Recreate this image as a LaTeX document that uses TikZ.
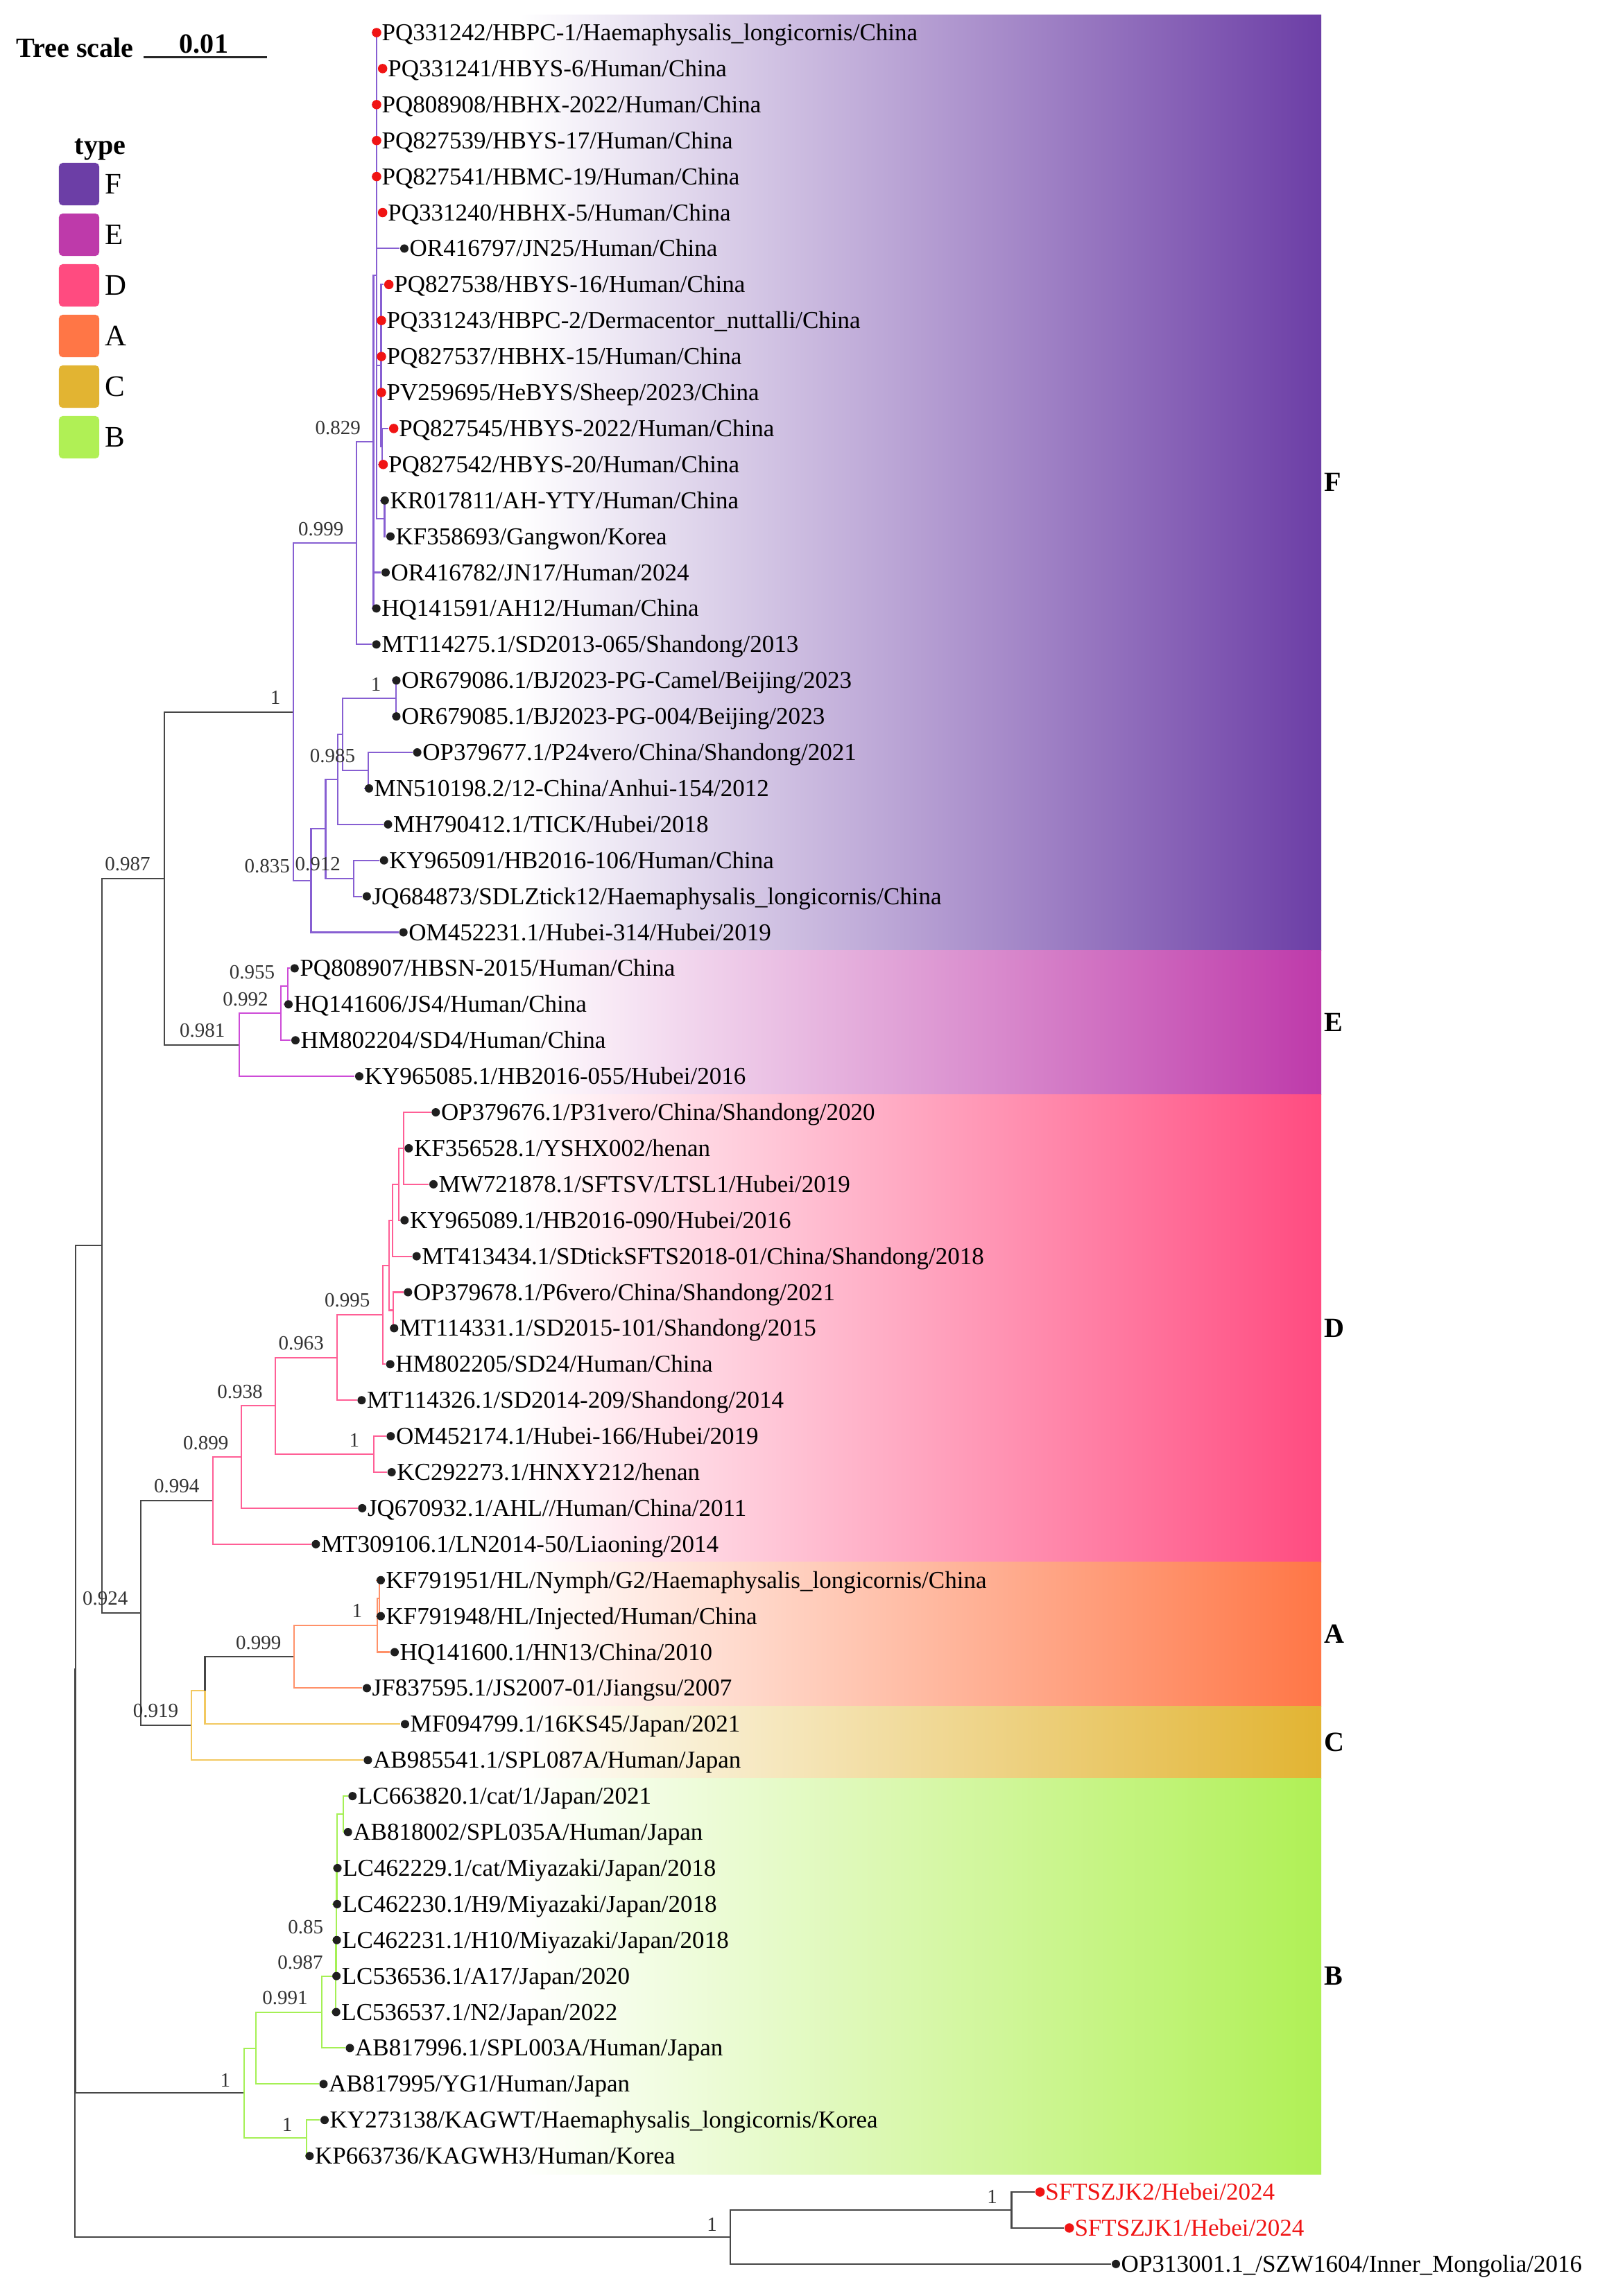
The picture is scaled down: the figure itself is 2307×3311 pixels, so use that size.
\documentclass[tikz,border=0pt]{standalone}
\usepackage{fontspec}
\setmainfont{Liberation Serif}
\usetikzlibrary{calc,backgrounds}
\definecolor{typeF}{RGB}{108,62,166}
\definecolor{typeE}{RGB}{190,58,170}
\definecolor{typeD}{RGB}{255,75,128}
\definecolor{typeA}{RGB}{255,118,70}
\definecolor{typeC}{RGB}{226,180,50}
\definecolor{typeB}{RGB}{176,240,85}
\definecolor{branchF}{RGB}{135,95,210}
\definecolor{branchE}{RGB}{205,75,215}
\definecolor{branchD}{RGB}{255,95,150}
\definecolor{branchA}{RGB}{255,145,105}
\definecolor{branchC}{RGB}{242,200,95}
\definecolor{branchB}{RGB}{165,240,85}
\definecolor{branchK}{RGB}{70,70,70}
\definecolor{tipred}{RGB}{240,20,20}
\pgfdeclarelayer{strips}
\pgfsetlayers{strips,background,main}

% leaf = dot + label
\newcommand{\leaf}[5]{%
  \node[#4] (#1) at (#2,#3) {};
  \node[leaflab] (#1t) at ($(#1)+(7,11.5)$) {#5};}

\begin{document}
\begin{tikzpicture}[
    x=0.01cm, y=-0.01cm,
    dotk/.style={circle,fill=black!88,inner sep=0pt,minimum size=0.12cm},
    dotr/.style={circle,fill=tipred,inner sep=0pt,minimum size=0.135cm},
    leaflab/.style={anchor=base west,inner sep=0pt,font=\fontsize{9.96pt}{12pt}\selectfont},
    supval/.style={anchor=base east,inner sep=0pt,text=black!80,font=\fontsize{8.25pt}{10pt}\selectfont},
    headlab/.style={inner sep=0pt,font=\bfseries\fontsize{11.4pt}{13pt}\selectfont},
    legbox/.style={rounded corners=1.5pt,minimum width=0.58cm,minimum height=0.61cm,inner sep=0pt},
    leglab/.style={anchor=west,inner sep=0pt,font=\fontsize{12.2pt}{14pt}\selectfont},
    cladelab/.style={anchor=west,inner sep=0pt,font=\bfseries\fontsize{11.4pt}{13pt}\selectfont},
    br/.style={line width=0.6pt},
    brK/.style={br,color=branchK},
    brF/.style={br,color=branchF},
    brE/.style={br,color=branchE},
    brD/.style={br,color=branchD},
    brA/.style={br,color=branchA},
    brC/.style={br,color=branchC},
    brB/.style={br,color=branchB}
]
    \useasboundingbox (0,0) rectangle (2307,3311);

    % type strips, white to colour
    \begin{pgfonlayer}{strips}
        \fill[white] (0,0) rectangle (2307,3311);
        \shade[left color=white,right color=typeF] (750,21.05) rectangle (1905,1370.45);
        \shade[left color=white,right color=typeE] (750,1370.45) rectangle (1905,1578.05);
        \shade[left color=white,right color=typeD] (750,1578.05) rectangle (1905,2252.75);
        \shade[left color=white,right color=typeA] (750,2252.75) rectangle (1905,2460.35);
        \shade[left color=white,right color=typeC] (750,2460.35) rectangle (1905,2564.15);
        \shade[left color=white,right color=typeB] (750,2564.15) rectangle (1905,3135.05);
    \end{pgfonlayer}

    % scale and legend
    \node[headlab,anchor=base west] (treescale) at (23,82.6) {Tree scale};
    \coordinate (barL) at (207,82.6);
    \coordinate (barR) at (385,82.6);
    \draw[line width=0.75pt,black!85] (barL) -- (barR);
    \node[headlab,anchor=base] (scaleval) at (294,76) {0.01};
    \node[headlab,anchor=base west] (typehead) at (107,222) {type};
    \node[legbox,fill=typeF] (legF) at (114,265.5) {};
    \node[legbox,fill=typeE] (legE) at (114,338.5) {};
    \node[legbox,fill=typeD] (legD) at (114,411.5) {};
    \node[legbox,fill=typeA] (legA) at (114,484.5) {};
    \node[legbox,fill=typeC] (legC) at (114,557.5) {};
    \node[legbox,fill=typeB] (legB) at (114,630.5) {};
    \node[leglab] (legFt) at (151,265.5) {F};
    \node[leglab] (legEt) at (151,338.5) {E};
    \node[leglab] (legDt) at (151,411.5) {D};
    \node[leglab] (legAt) at (151,484.5) {A};
    \node[leglab] (legCt) at (151,557.5) {C};
    \node[leglab] (legBt) at (151,630.5) {B};

    % clade letters
    \node[cladelab] (cladeF) at (1909,695.75) {F};
    \node[cladelab] (cladeE) at (1909,1474.25) {E};
    \node[cladelab] (cladeD) at (1909,1915.4) {D};
    \node[cladelab] (cladeA) at (1909,2356.55) {A};
    \node[cladelab] (cladeC) at (1909,2512.25) {C};
    \node[cladelab] (cladeB) at (1909,2849.6) {B};

    % leaves
    \leaf{pq331242}{543.0}{47.0}{dotr}{PQ331242/HBPC-1/Haemaphysalis\_longicornis/China}
    \leaf{pq331241}{551.7}{98.9}{dotr}{PQ331241/HBYS-6/Human/China}
    \leaf{pq808908}{543.0}{150.8}{dotr}{PQ808908/HBHX-2022/Human/China}
    \leaf{pq827539}{543.0}{202.7}{dotr}{PQ827539/HBYS-17/Human/China}
    \leaf{pq827541}{543.0}{254.6}{dotr}{PQ827541/HBMC-19/Human/China}
    \leaf{pq331240}{551.7}{306.5}{dotr}{PQ331240/HBHX-5/Human/China}
    \leaf{or416797}{583.0}{358.4}{dotk}{OR416797/JN25/Human/China}
    \leaf{pq827538}{560.7}{410.3}{dotr}{PQ827538/HBYS-16/Human/China}
    \leaf{pq331243}{550.0}{462.2}{dotr}{PQ331243/HBPC-2/Dermacentor\_nuttalli/China}
    \leaf{pq827537}{550.0}{514.1}{dotr}{PQ827537/HBHX-15/Human/China}
    \leaf{pv259695}{550.0}{566.0}{dotr}{PV259695/HeBYS/Sheep/2023/China}
    \leaf{pq827545}{567.7}{617.9}{dotr}{PQ827545/HBYS-2022/Human/China}
    \leaf{pq827542}{552.5}{669.8}{dotr}{PQ827542/HBYS-20/Human/China}
    \leaf{kr017811}{554.8}{721.7}{dotk}{KR017811/AH-YTY/Human/China}
    \leaf{kf358693}{563.0}{773.6}{dotk}{KF358693/Gangwon/Korea}
    \leaf{or416782}{556.0}{825.5}{dotk}{OR416782/JN17/Human/2024}
    \leaf{hq141591}{542.7}{877.4}{dotk}{HQ141591/AH12/Human/China}
    \leaf{mt114275}{542.7}{929.3}{dotk}{MT114275.1/SD2013-065/Shandong/2013}
    \leaf{or679086}{571.5}{981.2}{dotk}{OR679086.1/BJ2023-PG-Camel/Beijing/2023}
    \leaf{or679085}{571.5}{1033.1}{dotk}{OR679085.1/BJ2023-PG-004/Beijing/2023}
    \leaf{op379677}{601.6}{1085.0}{dotk}{OP379677.1/P24vero/China/Shandong/2021}
    \leaf{mn510198}{532.0}{1136.9}{dotk}{MN510198.2/12-China/Anhui-154/2012}
    \leaf{mh790412}{559.5}{1188.8}{dotk}{MH790412.1/TICK/Hubei/2018}
    \leaf{ky965091}{553.7}{1240.7}{dotk}{KY965091/HB2016-106/Human/China}
    \leaf{jq684873}{528.9}{1292.6}{dotk}{JQ684873/SDLZtick12/Haemaphysalis\_longicornis/China}
    \leaf{om452231}{581.7}{1344.5}{dotk}{OM452231.1/Hubei-314/Hubei/2019}
    \leaf{pq808907}{424.8}{1396.4}{dotk}{PQ808907/HBSN-2015/Human/China}
    \leaf{hq141606}{416.0}{1448.3}{dotk}{HQ141606/JS4/Human/China}
    \leaf{hm802204}{426.0}{1500.2}{dotk}{HM802204/SD4/Human/China}
    \leaf{ky965085}{518.0}{1552.1}{dotk}{KY965085.1/HB2016-055/Hubei/2016}
    \leaf{op379676}{628.3}{1604.0}{dotk}{OP379676.1/P31vero/China/Shandong/2020}
    \leaf{kf356528}{589.3}{1655.9}{dotk}{KF356528.1/YSHX002/henan}
    \leaf{mw721878}{625.0}{1707.8}{dotk}{MW721878.1/SFTSV/LTSL1/Hubei/2019}
    \leaf{ky965089}{583.3}{1759.7}{dotk}{KY965089.1/HB2016-090/Hubei/2016}
    \leaf{mt413434}{600.7}{1811.6}{dotk}{MT413434.1/SDtickSFTS2018-01/China/Shandong/2018}
    \leaf{op379678}{588.3}{1863.5}{dotk}{OP379678.1/P6vero/China/Shandong/2021}
    \leaf{mt114331}{568.3}{1915.4}{dotk}{MT114331.1/SD2015-101/Shandong/2015}
    \leaf{hm802205}{562.7}{1967.3}{dotk}{HM802205/SD24/Human/China}
    \leaf{mt114326}{521.4}{2019.2}{dotk}{MT114326.1/SD2014-209/Shandong/2014}
    \leaf{om452174}{563.4}{2071.1}{dotk}{OM452174.1/Hubei-166/Hubei/2019}
    \leaf{kc292273}{564.7}{2123.0}{dotk}{KC292273.1/HNXY212/henan}
    \leaf{jq670932}{522.3}{2174.9}{dotk}{JQ670932.1/AHL//Human/China/2011}
    \leaf{mt309106}{455.4}{2226.8}{dotk}{MT309106.1/LN2014-50/Liaoning/2014}
    \leaf{kf791951}{549.0}{2278.7}{dotk}{KF791951/HL/Nymph/G2/Haemaphysalis\_longicornis/China}
    \leaf{kf791948}{549.0}{2330.6}{dotk}{KF791948/HL/Injected/Human/China}
    \leaf{hq141600}{569.0}{2382.5}{dotk}{HQ141600.1/HN13/China/2010}
    \leaf{jf837595}{529.0}{2434.4}{dotk}{JF837595.1/JS2007-01/Jiangsu/2007}
    \leaf{mf094799}{584.0}{2486.3}{dotk}{MF094799.1/16KS45/Japan/2021}
    \leaf{ab985541}{530.4}{2538.2}{dotk}{AB985541.1/SPL087A/Human/Japan}
    \leaf{lc663820}{508.3}{2590.1}{dotk}{LC663820.1/cat/1/Japan/2021}
    \leaf{ab818002}{501.7}{2642.0}{dotk}{AB818002/SPL035A/Human/Japan}
    \leaf{lc462229}{486.6}{2693.9}{dotk}{LC462229.1/cat/Miyazaki/Japan/2018}
    \leaf{lc462230}{486.1}{2745.8}{dotk}{LC462230.1/H9/Miyazaki/Japan/2018}
    \leaf{lc462231}{485.6}{2797.7}{dotk}{LC462231.1/H10/Miyazaki/Japan/2018}
    \leaf{lc536536}{485.1}{2849.6}{dotk}{LC536536.1/A17/Japan/2020}
    \leaf{lc536537}{484.7}{2901.5}{dotk}{LC536537.1/N2/Japan/2022}
    \leaf{ab817996}{504.5}{2953.4}{dotk}{AB817996.1/SPL003A/Human/Japan}
    \leaf{ab817995}{466.5}{3005.3}{dotk}{AB817995/YG1/Human/Japan}
    \leaf{ky273138}{468.0}{3057.2}{dotk}{KY273138/KAGWT/Haemaphysalis\_longicornis/Korea}
    \leaf{kp663736}{446.4}{3109.1}{dotk}{KP663736/KAGWH3/Human/Korea}
    \leaf{zjk2}{1499.6}{3161.0}{dotr}{\color{tipred}SFTSZJK2/Hebei/2024}
    \leaf{zjk1}{1541.8}{3212.9}{dotr}{\color{tipred}SFTSZJK1/Hebei/2024}
    \leaf{op313001}{1609.0}{3264.8}{dotk}{OP313001.1\_/SZW1604/Inner\_Mongolia/2016}

    % inner nodes of F
    \coordinate (fTop) at (542.7,397.3);
    \coordinate (fMid) at (549.5,527.1);
    \coordinate (fMidB) at (551.0,643.85);
    \coordinate (fKK) at (554.5,747.65);
    \coordinate (f829) at (538.5,637.35);
    \coordinate (f999) at (514.0,783.3);
    \coordinate (fOR) at (571.0,1007.15);
    \coordinate (fOP) at (530.8,1110.95);
    \coordinate (f494) at (494.4,1059.05);
    \coordinate (f487) at (486.8,1123.9);
    \coordinate (f912) at (509.7,1266.65);
    \coordinate (f470) at (469.5,1195.3);
    \coordinate (f835) at (448.5,1269.9);
    \coordinate (fRoot) at (423.0,1026.6);
    % E
    \coordinate (e955) at (414.8,1422.35);
    \coordinate (e992) at (405.3,1461.3);
    \coordinate (e981) at (345.0,1506.7);
    \coordinate (fe987) at (237.3,1266.65);
    % D
    \coordinate (dT4) at (581.7,1655.9);
    \coordinate (dT3) at (575.0,1707.8);
    \coordinate (dT2) at (566.0,1759.7);
    \coordinate (dPair) at (566.7,1889.45);
    \coordinate (dT1) at (561.0,1824.6);
    \coordinate (d995) at (552.2,1895.95);
    \coordinate (d963) at (485.7,1957.6);
    \coordinate (dOM) at (538.8,2097.05);
    \coordinate (d938) at (397.3,2027.3);
    \coordinate (d899) at (348.2,2101.1);
    \coordinate (d994) at (307.1,2163.95);
    % A and C
    \coordinate (aPair) at (547.0,2304.65);
    \coordinate (a1) at (543.8,2343.6);
    \coordinate (a999) at (424.1,2389.0);
    \coordinate (cIn) at (295.5,2437.65);
    \coordinate (c919) at (275.9,2487.9);
    \coordinate (n924) at (203.1,2325.9);
    \coordinate (core) at (147.3,1796.3);
    % B
    \coordinate (bAB) at (495.0,2616.05);
    \coordinate (bL1) at (486.3,2654.98);
    \coordinate (bL2) at (485.8,2700.39);
    \coordinate (bL3) at (485.3,2749.05);
    \coordinate (b85) at (484.8,2799.3);
    \coordinate (b987) at (484.4,2850.4);
    \coordinate (b991) at (464.3,2901.9);
    \coordinate (bIn) at (368.8,2953.6);
    \coordinate (bK) at (442.0,3083.15);
    \coordinate (bRoot) at (351.8,3018.38);
    % outgroup and root
    \coordinate (oZJK) at (1458.5,3186.95);
    \coordinate (oOut) at (1052.6,3225.88);
    \coordinate (rootIn) at (109.4,2407.34);
    \coordinate (root) at (108.0,2816.6);

    % branches
    \begin{scope}[on background layer]
        \draw[brK] (root) |- (rootIn) (root) |- (oOut);
        \draw[brK] (rootIn) |- (core) (rootIn) |- (bRoot);
        \draw[brK] (core) |- (fe987) (core) |- (n924);
        \draw[brK] (fe987) |- (fRoot) (fe987) |- (e981);
        \draw[brK] (n924) |- (d994) (n924) |- (c919);
        \draw[brK] (oOut) |- (oZJK) (oOut) |- (op313001);
        \draw[brK] (oZJK) |- (zjk2) (oZJK) |- (zjk1);
        % F
        \draw[brF] (fRoot) |- (f999) (fRoot) |- (f835);
        \draw[brF] (f999) |- (f829) (f999) |- (mt114275);
        \draw[brF] (f829) |- (fTop) (f829) |- (or416782) (f829) |- (hq141591);
        \draw[brF] (fTop) |- (pq331242) (fTop) |- (pq331241) (fTop) |- (pq808908)
            (fTop) |- (pq827539) (fTop) |- (pq827541) (fTop) |- (pq331240)
            (fTop) |- (or416797) (fTop) |- (fMid) (fTop) |- (fKK);
        \draw[brF] (fMid) |- (pq827538) (fMid) |- (pq331243) (fMid) |- (pq827537)
            (fMid) |- (pv259695) (fMid) |- (fMidB);
        \draw[brF] (fMidB) |- (pq827545) (fMidB) |- (pq827542);
        \draw[brF] (fKK) |- (kr017811) (fKK) |- (kf358693);
        \draw[brF] (f835) |- (f470) (f835) |- (om452231);
        \draw[brF] (f470) |- (f487) (f470) |- (f912);
        \draw[brF] (f487) |- (f494) (f487) |- (mh790412);
        \draw[brF] (f494) |- (fOR) (f494) |- (fOP);
        \draw[brF] (fOR) |- (or679086) (fOR) |- (or679085);
        \draw[brF] (fOP) |- (op379677) (fOP) |- (mn510198);
        \draw[brF] (f912) |- (ky965091) (f912) |- (jq684873);
        % E
        \draw[brE] (e981) |- (e992) (e981) |- (ky965085);
        \draw[brE] (e992) |- (e955) (e992) |- (hm802204);
        \draw[brE] (e955) |- (pq808907) (e955) |- (hq141606);
        % D
        \draw[brD] (d994) |- (d899) (d994) |- (mt309106);
        \draw[brD] (d899) |- (d938) (d899) |- (jq670932);
        \draw[brD] (d938) |- (d963) (d938) |- (dOM);
        \draw[brD] (dOM) |- (om452174) (dOM) |- (kc292273);
        \draw[brD] (d963) |- (d995) (d963) |- (mt114326);
        \draw[brD] (d995) |- (dT1) (d995) |- (hm802205);
        \draw[brD] (dT1) |- (dT2) (dT1) |- (dPair);
        \draw[brD] (dPair) |- (op379678) (dPair) |- (mt114331);
        \draw[brD] (dT2) |- (dT3) (dT2) |- (mt413434);
        \draw[brD] (dT3) |- (dT4) (dT3) |- (ky965089);
        \draw[brD] (dT4) |- (op379676) (dT4) |- (kf356528) (dT4) |- (mw721878);
        % C and A
        \draw[brC] (c919) |- (cIn) (c919) |- (ab985541);
        \draw[brC] (cIn) |- (mf094799);
        \draw[brK] (cIn) |- (a999);
        \draw[brA] (a999) |- (a1) (a999) |- (jf837595);
        \draw[brA] (a1) |- (aPair) (a1) |- (hq141600);
        \draw[brA] (aPair) |- (kf791951) (aPair) |- (kf791948);
        % B
        \draw[brB] (bRoot) |- (bIn) (bRoot) |- (bK);
        \draw[brB] (bK) |- (ky273138) (bK) |- (kp663736);
        \draw[brB] (bIn) |- (b991) (bIn) |- (ab817995);
        \draw[brB] (b991) |- (b987) (b991) |- (ab817996);
        \draw[brB] (b987) |- (b85) (b987) |- (lc536537);
        \draw[brB] (b85) |- (bL3) (b85) |- (lc536536);
        \draw[brB] (bL3) |- (bL2) (bL3) |- (lc462231);
        \draw[brB] (bL2) |- (bL1) (bL2) |- (lc462230);
        \draw[brB] (bL1) |- (bAB) (bL1) |- (lc462229);
        \draw[brB] (bAB) |- (lc663820) (bAB) |- (ab818002);
    \end{scope}

    % support values
    \node[supval] (sfRoot) at ($(fRoot)+(-18,-11)$) {1};
    \node[supval] (sf999) at ($(f999)+(-18,-11)$) {0.999};
    \node[supval] (sf829) at ($(f829)+(-18,-11)$) {0.829};
    \node[supval] (sfOR) at ($(fOR)+(-21,-11)$) {1};
    \node[supval] (sfOP) at ($(fOP)+(-18,-11)$) {0.985};
    \node[supval] (sf912) at ($(f912)+(-18,-11)$) {0.912};
    \node[supval] (sf835) at ($(f835)+(-30,-11)$) {0.835};
    \node[supval] (se955) at ($(e955)+(-18,-11)$) {0.955};
    \node[supval] (se992) at ($(e992)+(-18,-11)$) {0.992};
    \node[supval] (se981) at ($(e981)+(-20,-11)$) {0.981};
    \node[supval] (sfe987) at ($(fe987)+(-20,-11)$) {0.987};
    \node[supval] (sd994) at ($(d994)+(-19,-11)$) {0.994};
    \node[supval] (sd899) at ($(d899)+(-18,-11)$) {0.899};
    \node[supval] (sd938) at ($(d938)+(-18,-11)$) {0.938};
    \node[supval] (sd963) at ($(d963)+(-18,-11)$) {0.963};
    \node[supval] (sd995) at ($(d995)+(-18,-11)$) {0.995};
    \node[supval] (sdOM) at ($(dOM)+(-20,-11)$) {1};
    \node[supval] (sn924) at ($(n924)+(-18,-11)$) {0.924};
    \node[supval] (sc919) at ($(c919)+(-18,-11)$) {0.919};
    \node[supval] (sa999) at ($(a999)+(-18,-11)$) {0.999};
    \node[supval] (sa1) at ($(a1)+(-21,-11)$) {1};
    \node[supval] (sb85) at ($(b85)+(-18,-11)$) {0.85};
    \node[supval] (sb987) at ($(b987)+(-18,-11)$) {0.987};
    \node[supval] (sb991) at ($(b991)+(-20,-11)$) {0.991};
    \node[supval] (sbK) at ($(bK)+(-20,-10)$) {1};
    \node[supval] (sbRoot) at ($(bRoot)+(-19,-9)$) {1};
    \node[supval] (soZJK) at ($(oZJK)+(-20,-9)$) {1};
    \node[supval] (soOut) at ($(oOut)+(-18,-8)$) {1};
\end{tikzpicture}
\end{document}
